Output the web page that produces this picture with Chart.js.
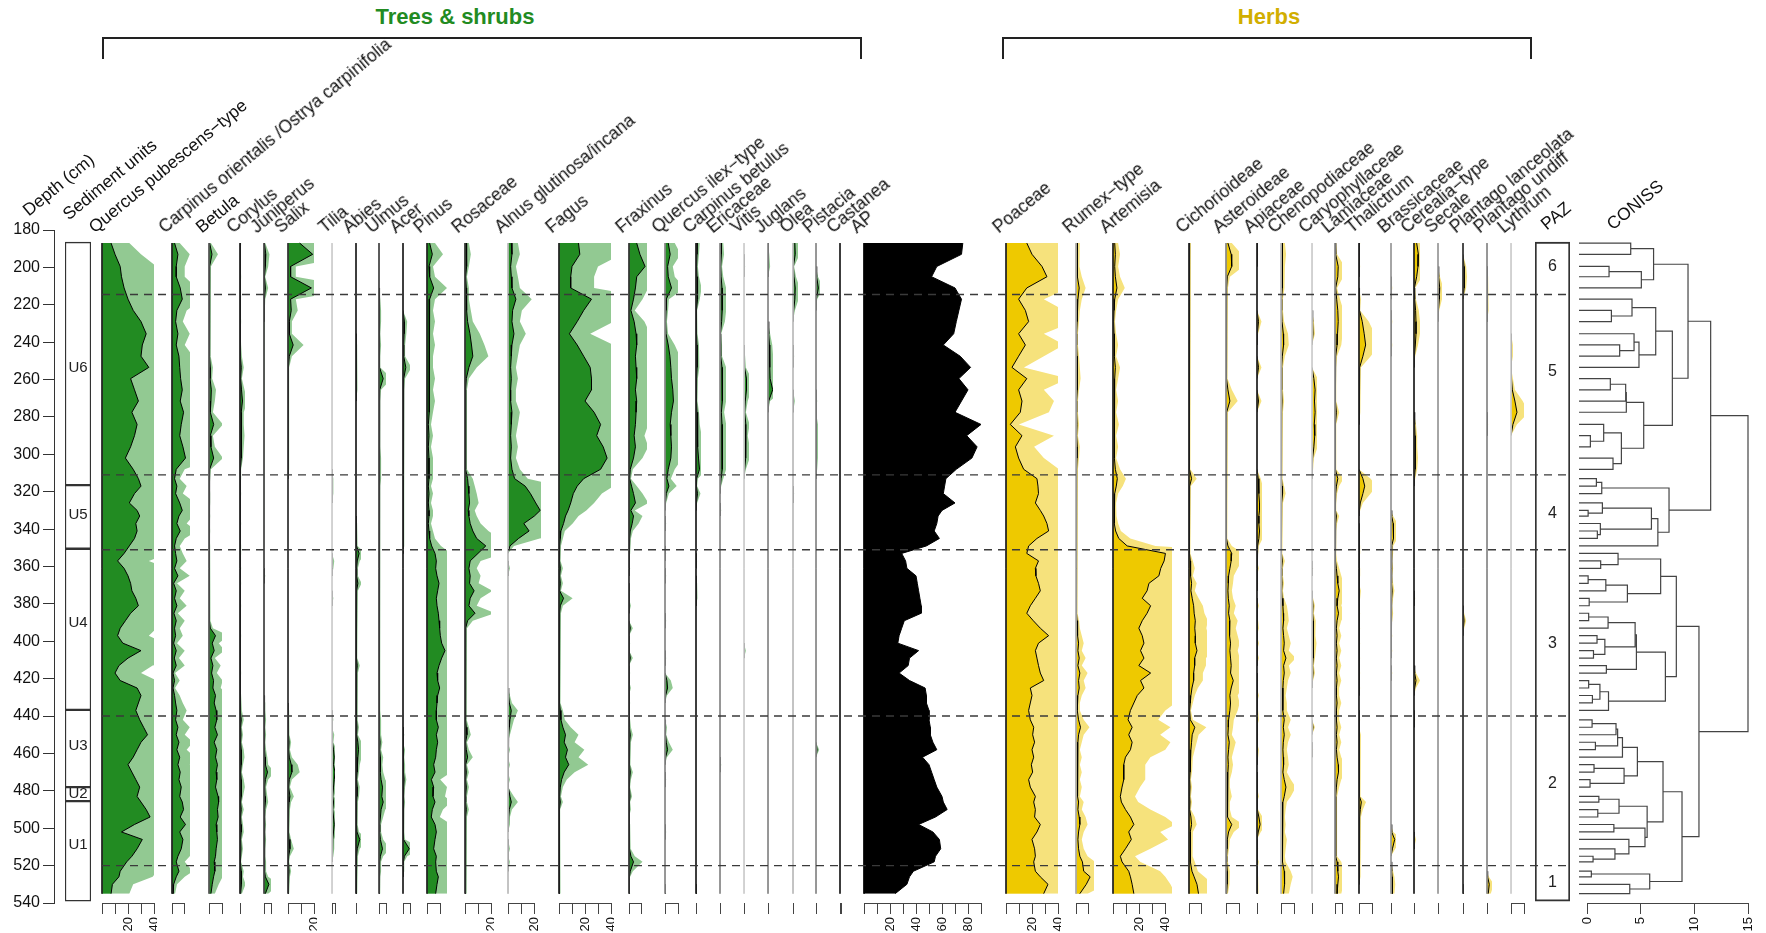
<!DOCTYPE html>
<html>
<head>
<meta charset="utf-8">
<title>Pollen diagram</title>
<script src="https://cdn.jsdelivr.net/npm/chart.js@4.4.1/dist/chart.umd.min.js"></script>
<style>
  body { margin: 0; background: #fff; }
  #page { position: relative; width: 1766px; height: 933px; overflow: hidden; font-family: "Liberation Sans", Arial, sans-serif; }
  #page canvas { position: absolute; }
  .lab { position: absolute; white-space: nowrap; font-size: 17.5px; line-height: 17.5px; height: 17.5px; color: #111; transform-origin: 0 100%; transform: rotate(-39.5deg); }
  .title { position: absolute; top: 4px; font-weight: bold; font-size: 22px; line-height: 26px; transform: translateX(-50%); white-space: nowrap; }
  .bracket { position: absolute; top: 37px; height: 20px; border: 2px solid #222; border-bottom: none; }
</style>
</head>
<body>
<div id="page">
  <div class="title" style="left:455px;color:#228B22">Trees &amp; shrubs</div>
  <div class="title" style="left:1269px;color:#D1AE00">Herbs</div>
  <div class="bracket" style="left:102px;width:756px"></div>
  <div class="bracket" style="left:1002px;width:526px"></div>
</div>
<script>
// Sample depths (cm)
const depths = [187,193,199.5,205,211, 217,223,229,235.5,241.5,247.5,253.5,259.5,265.5,271.5,277.5,284,290,296,302,308, 313,317,321,326,330,333,337,341,345,349, 353,357,361,365,369,373,377,381,385,389,393,397,401,405,409,413,417,421,425,429,433,437, 442,446,450,454,458,462,466,470,474,478,483,486,490,494,498,502,506,511,515,518,523,526,530,535];

// Pollen percentages, same order as depths
const quercusPub = [7,10,14,15,17, 20,24,30,34,31,30,36,22,25,28,23,27,25,22,18,24, 28,30,25,21,27,29,26,27,25,21, 17,12,17,20,22,23,26,28,22,18,14,12,16,30,20,13,10,14,27,30,28,26, 29,32,35,30,27,24,20,23,26,29,27,30,34,37,25,15,31,27,23,19,14,13,8,7];
const carpinusOri = [2,4.6,3.3,3.3,6.4, 8,3.8,2.8,4.6,3.3,5.4,6,6.7,8,6.4,9,7.2,6,8.5,10.5,3.3, 2,3.8,2.8,6,8,5.4,3.8,6.4,3.3,2, 2.8,3.8,2,4.6,1.3,3.3,2,3.8,1.5,3.3,2,2.8,1.3,3.3,1.8,3.3,0.8,2,0.8,2,2.8,3.8, 2.8,4.6,3.3,5.4,3.8,6,4.6,6.4,5.4,7.2,6,8,9,6.4,10.5,6,8.5,7.2,4.6,3.3,5.4,3.3,1.3,0.8];
const betula = [0.5,2.3,0.5,0.3,0.5, 0.5,0.3,0.5,0.5,0.3,0.5,1,0.8,1.8,1.5,1,3.6,1,1.5,3.6,0.5, 0.3,0.2,0.3,0.3,0.2,0.3,0.2,0.3,0.2,0.3, 0.3,0.3,0.5,0.3,0.3,0.3,0.5,0.5,0.3,0.5,1,5,2.5,4,1.5,3,2,3.5,3,5,4,5.5, 6,4.5,6.5,4,6,5,6.5,5.5,6,5,7,7.4,6.5,7,5.5,6,6.5,5.5,5,4,4.5,3.5,2.5,1.5];
const corylus = [0.3,0.2,0.2,0.3,0.2, 0.2,0.2,0.3,0.2,0.3,0.5,1,0.5,1.2,2,1,1,1.2,1,0.8,0.3, 0.3,0.2,0.3,0.2,0.2,0.2,0.3,0.2,0.2,0.3, 0.3,0.2,0.3,0.2,0.3,0.2,0.2,0.3,0.2,0.2,0.2,0.3,0.2,0.2,0.2,0.2,0.3,0.2,0.2,0.3,0.5,0.5, 1,0.5,0.8,0.5,1,1.2,0.8,0.5,1,1.3,0.8,0.5,1,0.5,0.8,1,0.5,0.8,0.5,0.3,1,0.8,1.5,0.5];
const juniperus = [0.3,1.3,1,0.3,1, 0.3,0.2,0,0,0,0,0,0,0,0,0,0,0,0,0,0, 0,0,0,0,0,0,0,0,0,0, 0,0,0,0.3,0,0,0,0,0,0,0,0,0,0,0,0,0,0,0,0,0.3,0.3, 0.5,0.3,0.5,0.3,0.5,0.8,1,2.5,1,0.5,0.8,1,0.5,0.3,0.5,0.3,0.5,0.3,0.3,0.5,0.5,1,3.5,1];
const salix = [9,19,2,2,18, 2,2.5,1,1,4,1,0.3,0.3,0.3,0.3,0.3,0.3,0.3,0.3,0.3,0.3, 0,0,0,0,0,0,0,0,0,0, 0,0,0,0,0,0,0,0,0,0,0,0,0,0,0,0,0,0,0,0,0,0.3, 0.3,0.5,0.3,0.8,0.5,1,2.5,3,1,0.5,1.5,0.8,0.5,0.3,0.5,0.3,0.8,1.5,0.5,0.3,0.8,0.5,0.3,0.3];
const tilia = [0,0,0,0,0, 0,0,0,0,0,0,0,0,0,0,0,0,0,0,0,0, 0.3,0.3,0.3,0,0,0,0,0,0,0, 0,0.5,0.3,0,0,0,0.3,0,0,0,0,0,0,0,0,0,0,0,0,0,0,0, 0.3,0,0.5,0.3,1,1.5,1,2,1.5,1,0.5,1,0.5,1,1.5,1,0.5,0.5,0.3,0,0,0,0,0];
const abies = [0,0,0,0,0, 0,0,0,0,0.3,0.3,0.5,0.5,0.3,0,0,0,0,0,0,0, 0,0,0,0,0,0,0.3,0.5,0.3,0.5, 2.5,1,0.5,0.5,1.5,0.5,0.3,0.3,0.5,0.3,0.3,0.3,0.3,0.5,0.3,1,0.5,0.3,0.5,0.5,0.3,0.5, 0.5,0.8,0.5,1.5,2,1.5,1,0.8,0.5,1,0.8,0.5,0.5,0.3,0.5,0.8,3,1,0.5,0.3,0.5,0.3,0.3,0.3];
const ulmus = [0,0,0,0,0, 0.3,0.5,0.5,0.3,0.5,0.3,0.3,3,0.5,0.3,0.3,0.3,0.3,0.3,0.5,0.5, 0.5,0.3,0.3,0.3,0.3,0.3,0.3,0.3,0.3,0.3, 0.3,0.3,0.3,0.3,0.3,0.3,0.3,0.3,0.3,0.3,0.3,0.3,0.3,0.3,0.3,0.3,0.3,0.3,0.3,0.3,0.3,0.3, 0.5,0.5,0.5,0.8,0.5,1,0.8,1,1.5,2.5,2,3,1.5,1,0.5,0.5,1,2.5,1,0.5,0.5,0.3,0.3,0.3];
const acer = [0,0,0,0,0, 0,0,1,0.8,0.5,0.5,2,0.5,0.3,0.3,0.3,0.3,0.3,0.3,0.3,0.3, 0.3,0.3,0.3,0.3,0.3,0.3,0.3,0.3,0.3,0.3, 0,0,0,0,0,0,0,0,0,0,0,0,0,0,0,0,0,0,0,0,0,0, 0,0,0.3,0,0.5,0.3,0.5,0.5,0.8,0.5,0.3,0.5,0.3,0.3,0.3,0.3,0.5,4.5,1,0.3,0.3,0,0,0];
const pinus = [2,4,1.5,2,5, 2,1.5,2,1.5,2,1.5,1.5,2,1.5,2,1.5,1,1.5,1,1.5,1.5, 1.5,1,1.5,1,1.5,1.5,1,1.5,2,3.5, 6,7,6.5,7.5,9,8,7,7.5,8.5,9,9.5,10,11,13.5,11,9,7.5,8,9.5,8,7.5,7, 7,8.5,7,8,7,6.5,5,6,3.3,5,4.5,6,4,3.2,6,7,6,5,7,6.5,7,8.5,7.5,6.5];
const rosaceae = [1,1.5,1,0.5,1, 1,1.5,2,3.8,5,6,3,1,0.5,0.5,0.5,0.5,0.5,0.5,0.5,0.5, 2,2.5,3,3.5,2.5,3,4,6,9,16, 10,4,3,4,3.5,7,4,3,7.7,2,0.5,0.5,0.3,0.5,0.3,0.5,0.3,0.5,0.3,0.5,0.5,0.5, 0.5,1,1.5,0.5,1,2,0.5,1,0.5,1,0.5,0.5,1,0.5,0.5,0.3,0.5,0.5,0.3,0.5,0.3,0.5,0.5,0.3];
const alnus = [2.5,3,2,2.5,3, 6,3.5,3,4.5,3,2.5,2,2.5,2,2,3,2.5,2,2.5,2,3, 5,13,17,21,24.4,20,12,16,8,1.5, 0,0,0.5,0,0,0,0,0,0,0,0,0,0,0,0,0,0,0,0,0.5,1,2.5, 1.5,1,0.5,0,0.5,0,0.5,0,0.5,0,1.5,2.5,1,0.5,0.5,0,0,0.5,0,0.5,0,0,0,0];
const fagus = [15,16,10,9,9, 25,19,14,8,14,19,24,25,25,20,27,32,29,34,37,32, 19,14,11,9,7,5,3.5,1.5,1,0.5, 0.5,0.3,1,0.5,1,0.5,3.5,1,0.5,0.3,0.5,0.3,0.5,0.3,0.5,0.3,0.3,0.5,0.3,0.3,0.5,1, 1.5,3,5,4,6.5,5,7.5,4,2,1,0.5,1,0.3,0.5,0.3,0.5,0.3,0.5,0.3,0.3,0.5,0.3,0.3,0.5];
const fraxinus = [6,8.5,12.5,6,5, 3.5,1.5,4,5.5,6,5,5.5,6,5,6,5.5,5,4,5,3.5,1, 0.5,2,3.5,5,1.5,3.5,2.5,1,0.5,0.3, 0.3,0,0.3,0,0,0.3,0,0.5,0,0,1,0,0.3,0,1,0,0.3,0,0.5,0,0.3,0, 0.3,0.5,1,0.5,0.3,0.5,0.3,1,0.5,0.3,0.8,0.3,0.5,0,0.3,0.5,0.3,0.5,1.5,3.5,1,0.3,0,0.3];
const quercusIlex = [2.5,4,2,2.5,5, 1,0.8,0.5,0.8,2.5,3.8,4.5,5,6,6.5,5,4,4.5,5,4.5,2.5, 1.5,3,1,0.3,0,0,0.3,0,0,0, 0.3,0,0,0.3,0,0,0,0,0,0.3,0,0,0,0,0.3,0,0,1.5,2,0.5,0,0, 0,0.5,0.3,1,2,0.5,0,0,0.3,0,0,0,0,0,0,0.3,0,0,0,0,0,0,0,0.3];
const carpinusBet = [1,0.8,0.5,0.8,1.5, 1,0.3,0.3,0.5,0.8,1,0.8,0.5,0.5,0.3,0.8,1,1.5,1.5,2,2.8, 0.5,0.3,1.2,0.3,0,0,0,0,0,0, 0,0.3,0,0,0.3,0.5,0.3,0,0,0,0,0,0,0,0,0,0,0,0,0,0,0, 0,0,0,0,0,0,0,0,0,0,0,0,0,0,0,0,0,0,0,0,0,0,0,0.3];
const ericaceae = [0.8,1,0.5,0.8,1.5, 1.8,1.5,1.2,0.3,0.5,0.5,1.5,2,1.8,1.5,1,1.5,1.8,1.5,2,1.5, 0.8,0.3,0,0,0.3,0,0,0,0,0, 0,0,0,0,0,0,0,0,0,0,0,0,0,0,0,0,0,0,0,0,0,0, 0,0,0,0,0,0,0.3,0,0,0,0,0,0,0,0,0,0,0,0,0,0,0,0,0];
const vitis = [0,0,0.3,0,0, 0,0,0,0,0,0.3,0.5,2,2,1,0.5,1.5,1,1.5,1.5,0.5, 0,0,0,0,0,0,0,0,0,0, 0,0,0,0,0,0,0,0,0,0,0,0,0,0.5,0,0,0,0,0,0,0,0, 0,0,0,0,0,0,0,0,0,0,0,0,0,0,0,0,0,0,0,0,0,0,0,0];
const juglans = [0,0.3,0.5,0,0, 0,0,0,0.5,1,1.2,1.3,1.5,3.3,0.5,0,0,0,0,0,0, 0,0,0,0,0,0,0,0,0,0, 0,0,0,0,0,0,0,0,0,0,0,0,0,0,0,0,0,0,0,0,0,0, 0,0,0,0,0,0,0,0,0,0,0,0,0,0,0,0,0,0,0,0,0,0,0,0];
const olea = [1.5,1.8,0.3,0.8,1.8, 1.5,0.5,0,0,0,0.3,0,0,0,0.5,0,0,0,0,0,0, 0,0,0.3,0,0,0,0,0,0,0, 0,0,0,0,0,0,0,0,0,0,0,0,0,0,0,0,0,0,0,0,0,0, 0,0,0,0,0,0,0,0,0,0,0,0,0,0,0,0,0,0,0,0,0,0,0,0];
const pistacia = [0,0,0,0.5,1.8, 0.3,0,0,0,0,0,0,0,0,0.3,0,0.5,0.5,0.5,0.5,0.3, 0,0,0,0,0,0,0,0,0,0, 0,0,0,0,0,0,0,0,0,0,0,0,0,0,0,0,0,0,0,0,0,0, 0,0,0,0,0.8,0,0,0,0,0,0,0,0,0,0,0,0,0,0,0,0,0,0,0];
const castanea = [0,0,0,0,0, 0,0,0,0,0,0,0,0,0,0,0,0,0,0,0,0, 0,0,0,0,0,0,0,0,0,0, 0,0,0,0,0,0,0,0,0,0,0,0,0,0,0,0,0,0,0,0,0,0, 0,0,0,0,0,0,0,0,0,0,0,0,0,0,0,0,0,0,0,0,0,0,0,0];
const ap = [76,75,56,52,70, 75,73,71,69,61,74,82,73,80,75,70,90,79,87,83,71, 63,62,61,70,60,57,56,54,58,48, 29,32,33,40,41,42,43,44,44,31,29,27,26,42,35,34,27,35,47,48,48,50, 50,51,51,53,56,45,50,52,54,56,60,61,64,55,42,53,58,59,55,54,38,35,33,24];

const poaceae = [16,20,27.7,31.5,16, 9.7,14.9,17.4,9.7,14.9,9.7,4.6,16,9.7,12.3,11,3.3,12.3,7.2,9.7,13.6, 23.8,24.6,25,22.6,26.4,29,31.5,32.8,23.8,17.4, 16,25,22.6,23,25,26.4,22.6,18.7,16,21,26.4,32.8,25,22.6,23.8,25,26.4,29,18.7,20,18.7,17.4, 18.7,21.3,20.5,22,20,21.3,19.5,20.5,17.4,18.7,22.6,21.3,22.6,22,26.4,23.8,20,22,22.6,21.3,22.6,26.4,32.3,29];
const rumex = [1,0.8,1,1.5,2.5, 1.5,1,0.8,0.5,0.5,0.8,1,1.2,0.8,0.5,0.5,0.8,0.5,1,0.8,0.5, 0.5,0.3,0.5,0.3,0.5,0.3,0.5,0.3,0.5,0.3, 0.3,0.5,0.3,0.5,0.3,0.5,0.3,0.5,0.5,0.8,1,1.5,2,1.5,2.5,1.5,3,2,2.5,1.5,1,1, 2,3.5,2,1.5,1,1.5,1,1.5,1,1.5,1,2,1.5,2.5,3,2,1.5,2,3,5,6,11,8,3];
const artemisia = [1.3,1.8,1.3,1.8,3, 1.3,0.8,0.5,0.8,1.3,0.8,1.8,1.3,0.8,1.3,0.8,1.5,0.8,1.3,0.8,1.8, 3.3,2.5,1.3,0.8,1,0.8,1.3,2,4.4,10.8, 40,39,36.4,35,27.4,26,22.3,28.7,26,22.3,19.7,22.3,23.6,21,23.6,19.7,28.7,21,23.6,18.5,15.9,13.3, 11.5,14.6,12,14.6,13.3,9.5,8.2,8.2,8.2,6.9,5.6,6.4,9.5,13.3,15.9,12,14,9.5,5.6,6.9,12,13.3,14.6,15.9];
const cichorioideae = [0.5,0.3,0.5,0.3,0.3, 0.3,0.3,0.5,0.3,0.5,0.3,0.5,0.3,0.3,0.5,0.3,0.3,0.3,0.5,0.3,0.5, 2,0.5,0.3,0.3,0.5,0.3,0.3,0.3,0.5,0.3, 0.5,1,1.5,1,2,1.5,2.5,3.6,4,4.9,4.5,5,4.9,6.2,4.4,4.4,3.6,3.6,2.3,1.5,1,0.5, 1,4.5,2.5,2,1.5,1,0.8,0.8,0.5,0.8,0.5,0.8,0.5,1.5,2,1,1,1,0.8,1.5,2.3,4,6.2,7.4];
const asteroideae = [1.5,4,4.4,1,0.5, 0.5,0.3,0.5,0.3,0.5,0.3,0.5,0.3,1.5,3,0.5,0.3,0.3,0.5,0.3,0.3, 0.3,0.5,0.3,0.3,0.3,0.3,0.3,0.3,0.5,1.5, 4.4,4,3,2,1.8,1.5,1.8,2.5,2,3,2.5,3,3.5,3,3.5,4,3.5,5.6,4,3,3.5,3, 2,1.8,1.5,2.5,2,1.5,1.8,1.5,1,1,1.5,1,1,1.5,4.4,2,1,0.8,0.5,0.5,1,0.8,1,0.5];
const apiaceae = [0,0.3,0,0,0, 0,0,1.2,0.3,0,0,1.2,0,0,1.2,0,0,0,0,0,0, 1,1.5,1.5,2,2,1.5,1.5,2,1.5,0.5, 0.3,0,0.5,0,0.3,0,0,0.5,0,0.3,0.5,0,0.5,0,0.5,0,0,0.3,0,0.5,0,0.3, 0.5,0,0.3,0,0.5,0.3,0,0,0.3,0,0.5,0,0.3,1.5,2.5,1,0,0.3,0,0.5,0,0.3,0.5,0.3];
const chenopodiaceae = [1,1.3,1,0.8,1, 0.5,0.5,0.8,1.8,2,1,0.5,0.5,0.5,0.8,0.5,0.5,0.3,0.5,0.3,0.3, 0.5,0.8,1.2,0.5,0.3,0.3,0.3,0.3,0.3,0.5, 0.5,1,0.5,0.5,0.8,0.5,0.8,1.5,1.8,2,1.5,2,2.5,2,3.8,2,2.5,1.8,1.5,1.2,1.5,1.5, 2.5,1.8,2.5,1.8,1.5,1.8,2,1.5,2.5,3.8,2.5,1.5,1.2,1,1.2,1,1.5,1.2,1,1.2,2.5,3,2.5,2];
const caryophyllaceae = [0,0,0,0,0, 0,0,0.5,0.8,0,0,0,1.5,2.5,2,2.5,1.8,2.2,1.5,0.5,0.3, 0,0,0,0,0,0,0,0,0,0, 0,0,0.3,0,0,0,0.3,0.8,0.5,1,0.8,1,1.2,1,0.8,0.5,0.8,0.3,0,0,0,0, 0,0.8,0,0,0.3,0,0,0,0,0,0,0,0,0,0,0,0,0,0,0,0,0,0,0];
const lamiaceae = [0.3,0.5,2.3,2,0.5, 1.2,2,2.3,1.8,1.5,0.5,0.3,0.3,0.3,0.3,1,0.3,0.3,0.3,0.3,0.3, 2,1,0.5,0.3,0.3,1,0.5,0.3,0.3,0.3, 0.3,0.5,1,1.5,2,3,2,1.5,2.5,1.5,1,1.5,1,1.5,1,1.5,1,1.5,1,1,1.5,1, 1,1.5,1,1.5,1,1.5,2.3,2.5,1.5,1,0.5,0.5,0.5,0.5,0.5,0.5,0.5,0.5,0.5,1.5,2,2.5,2,1.5];
const thalictrum = [0.3,0,0.3,0,0, 0.5,0.3,2.5,4,5.1,3,0.5,0.3,0.3,0.5,0.3,0,0,0,0,0, 3,4.4,3,1,0.3,0,0,0.3,0,0.3, 0.3,0,0.3,0.3,0,0.5,0.3,0,0.3,0,0.3,0,0.3,0,0.3,0,0.3,0,0.3,0,0,0, 0.3,0,0.5,0.3,0.5,0.3,0.5,0.3,0.5,0.3,0.5,1.8,1,0.5,0.3,0.5,0.3,0.5,0.5,0.3,0.5,0.3,0,0];
const brassicaceae = [0,0,0,0,0.3, 0,0,0.3,0,0.3,0,0,0,0,0,0,0,0,0,0,0, 0,0,0,0,0,0.5,1.5,2,1.5,0.5, 0.5,0.3,0.5,0.3,0.5,0.8,0.5,0.3,0.5,0.3,0,0.3,0,0.3,0,0,0.3,0,0,0,0,0, 0,0,0,0,0,0,0,0,0,0,0,0,0,0,0,0.5,2.6,1,0,0,0.5,0.8,1,0.8];
const cerealia = [2,3.3,3,2,0.3, 0.5,1.2,1.5,1.5,1,0.3,0,0,0,0,0,0.5,0.8,0.8,1,0.8, 0.3,0,0,0,0,0,0,0,0,0, 0,0,0,0,0,0,0.3,0,0,0,0,0,0,0,0,0,0.5,1.5,0.5,0,0,0, 0.3,0,0,0,0,0,0,0,0,0,0,0,0,0,0,0,0.5,0,0,0,0,0,0,0];
const secale = [0,0,0,0.5,1.3, 1,0.3,0,0,0,0,0,0,0,0,0,0,0,0,0,0, 0,0,0,0,0,0,0,0,0,0, 0,0,0,0,0,0,0,0,0,0,0,0,0,0,0,0,0,0,0,0,0,0, 0,0,0,0,0,0,0,0,0,0,0,0,0,0,0,0,0,0,0,0,0,0,0,0];
const plantagoLanc = [0,0,0.8,1,0.8, 0,0,0,0,0,0,0,0,0,0,0,0,0,0,0,0, 0,0,0,0,0,0,0,0,0,0, 0,0,0,0,0,0,0,0,0.3,0.8,0.3,0,0,0,0,0,0,0,0,0,0,0, 0,0,0,0,0,0,0,0,0,0,0,0,0,0,0,0,0,0,0,0,0,0,0,0.3];
const plantagoUnd = [0,0,0,0.3,0.5, 0.5,0.3,0,0,0,0,0,0,0,0,0,0.3,0,0,0,0, 0,0,0,0,0,0,0,0,0,0, 0,0,0,0,0,0,0,0,0,0,0,0,0,0,0,0,0,0,0,0,0,0, 0,0,0,0,0,0,0,0,0,0,0,0,0,0,0,0,0,0,0,0,0,0.5,1.8,1];
const lythrum = [0,0,0,0,0, 0,0,0,0,0.5,0.5,0,0.5,1,3,4.6,1.5,0,0,0,0, 0,0,0,0,0,0,0,0,0,0, 0,0,0,0,0,0,0,0,0,0,0,0,0,0,0,0,0,0,0,0,0,0, 0,0,0,0,0,0,0,0,0,0,0,0,0,0,0,0,0,0,0,0,0,0,0,0];

// CONISS: hclust-style merges (negative = sample number, positive = earlier merge), total dispersion
const leafStart = -0.75;
const merges = [
  [-1,-2,4.07],[-3,-4,2.05],[2,-5,5.06],[1,3,6.2],
  [-7,-8,2.27],[-6,5,4.19],[-10,-11,3.04],[-9,7,4.38],[8,-12,4.84],[6,9,6.4],
  [-13,-14,2.17],[11,-15,3.6],[12,-16,3.66],[-18,-19,0.31],[-17,14,1.55],[-20,-21,2.42],[15,16,3.2],[13,17,5.28],[10,18,7.95],[4,19,9.41],
  [-22,-23,0.87],[21,-24,1.37],[-26,-27,0.1],[-25,23,1.43],[-29,-30,0.96],[-28,25,1.24],[24,26,6.0],[27,-31,6.6],[22,28,7.64],[20,29,11.52],
  [-33,-34,1.27],[-32,31,2.89],[-35,-36,0.1],[33,-37,1.75],[-38,-39,0.2],[34,35,3.76],[32,36,6.86],
  [-40,-41,0.15],[38,-42,1.96],[-43,-44,0.93],[-45,-46,0.6],[40,41,1.66],[39,42,4.48],[-47,-48,1.8],[43,44,4.6],
  [-49,-50,0.15],[-51,-52,0.5],[46,47,1.2],[48,-53,2.0],[45,49,7.3],[37,50,8.32],
  [-54,-55,0.47],[52,-56,2.7],[-57,-58,0.78],[53,54,2.85],[55,-59,3.3],[-60,-61,0.65],[-62,-63,0.28],[57,58,3.45],[56,59,4.69],
  [-64,-65,1.1],[-66,-67,1.0],[61,62,2.98],[-72,-73,0.56],[-71,64,2.6],[-70,65,3.9],[-68,-69,2.5],[67,66,5.4],[63,68,5.6],[60,69,7.08],
  [-74,-75,0.4],[-76,-77,3.98],[71,72,5.84],[70,73,8.85],[51,74,10.43],[30,75,15.0]
];

// Zones and sediment units
const zoneBounds = [214.5, 311, 351, 440, 520];
const pazNames = ['6','5','4','3','2','1'];
const pazLabelDepth = [199.7, 256, 331.5, 401, 476, 529];
const pazRange = [186.5, 539];
const unitNames = ['U6','U5','U4','U3','U2','U1'];
const unitTop = [186.5, 316.5, 350.5, 436.7, 478, 485.5];
const unitBottom = [316.5, 350.5, 436.7, 478, 485.5, 539];
const unitLabelDepth = [254, 332.6, 390, 456, 481.4, 509];

// Layout
const TOP = 230, PLOT_H = 673, AXIS_H = 32, PX = 1.3, EXAG = 3;
const FONT = '"Liberation Sans", Arial, sans-serif';
const TREE_DARK = '#228B22', TREE_LIGHT = '#92C992', HERB_DARK = '#EEC900', HERB_LIGHT = '#F6E27C';

// label, data, zero line x, column max (%), group, baseline colour
const columns = [
  ['Quercus pubescens\u2212type', quercusPub, 102, 40, 'tree', '#222'],
  ['Carpinus orientalis /Ostrya carpinifolia', carpinusOri, 172, 14, 'tree', '#222'],
  ['Betula', betula, 209, 10, 'tree', '#555'],
  ['Corylus', corylus, 240, 4, 'tree', '#222'],
  ['Juniperus', juniperus, 264, 5, 'tree', '#444'],
  ['Salix', salix, 288, 20, 'tree', '#333'],
  ['Tilia', tilia, 332, 2, 'tree', '#ccc'],
  ['Abies', abies, 356, 4, 'tree', '#222'],
  ['Ulmus', ulmus, 379, 5, 'tree', '#444'],
  ['Acer', acer, 403, 5, 'tree', '#222'],
  ['Pinus', pinus, 427, 15, 'tree', '#222'],
  ['Rosaceae', rosaceae, 465, 20, 'tree', '#333'],
  ['Alnus glutinosa/incana', alnus, 508, 25, 'tree', '#bbb'],
  ['Fagus', fagus, 559, 40, 'tree', '#222'],
  ['Fraxinus', fraxinus, 629, 14, 'tree', '#333'],
  ['Quercus ilex\u2212type', quercusIlex, 665, 10, 'tree', '#888'],
  ['Carpinus betulus', carpinusBet, 696, 4, 'tree', '#222'],
  ['Ericaceae', ericaceae, 720, 4.4, 'tree', '#888'],
  ['Vitis', vitis, 744, 4, 'tree', '#ccc'],
  ['Juglans', juglans, 768, 3.5, 'tree', '#888'],
  ['Olea', olea, 793, 4, 'tree', '#bbb'],
  ['Pistacia', pistacia, 816, 3, 'tree', '#888'],
  ['Castanea', castanea, 840, 1, 'tree', '#222'],
  ['AP', ap, 864, 90, 'ap', '#000'],
  ['Poaceae', poaceae, 1006, 40, 'herb', '#222'],
  ['Rumex\u2212type', rumex, 1076, 14, 'herb', '#aaa'],
  ['Artemisia', artemisia, 1113, 45, 'herb', '#222'],
  ['Cichorioideae', cichorioideae, 1189, 14, 'herb', '#222'],
  ['Asteroideae', asteroideae, 1226, 10, 'herb', '#888'],
  ['Apiaceae', apiaceae, 1257, 4, 'herb', '#222'],
  ['Chenopodiaceae', chenopodiaceae, 1281, 10, 'herb', '#bbb'],
  ['Caryophyllaceae', caryophyllaceae, 1312, 4, 'herb', '#ccc'],
  ['Lamiaceae', lamiaceae, 1335, 5, 'herb', '#888'],
  ['Thalictrum', thalictrum, 1359, 10, 'herb', '#222'],
  ['Brassicaceae', brassicaceae, 1391, 3.5, 'herb', '#999'],
  ['Cerealia\u2212type', cerealia, 1414, 4.5, 'herb', '#222'],
  ['Secale', secale, 1438, 3, 'herb', '#999'],
  ['Plantago lanceolata', plantagoLanc, 1463, 3, 'herb', '#333'],
  ['Plantago undiff', plantagoUnd, 1487, 4, 'herb', '#888'],
  ['Lythrum', lythrum, 1511, 10, 'herb', '#ccc']
];

Chart.defaults.font.family = FONT;
Chart.defaults.color = '#111';
const page = document.getElementById('page');

columns.forEach(c => { if (c[1].length !== depths.length) console.error('length mismatch', c[0], c[1].length); });

function makeCanvas(left, top, w, h) {
  const cv = document.createElement('canvas');
  cv.width = Math.round(w); cv.height = Math.round(h);
  cv.style.left = Math.round(left) + 'px'; cv.style.top = Math.round(top) + 'px';
  cv.style.width = cv.width + 'px'; cv.style.height = cv.height + 'px';
  page.appendChild(cv);
  return cv;
}

function addLabel(text, x, y) {
  const d = document.createElement('div');
  d.className = 'lab';
  d.textContent = text;
  d.style.left = x + 'px';
  d.style.top = (y - 17.5) + 'px';
  page.appendChild(d);
}

function baseOpts(extra) {
  return Object.assign({
    responsive: false, maintainAspectRatio: false, animation: false, devicePixelRatio: 1, events: [],
    plugins: { legend: { display: false }, tooltip: { enabled: false } },
    elements: { point: { radius: 0 }, line: { tension: 0 } }
  }, extra);
}

// horizontal axis line only from first to last tick
const axisLine = {
  id: 'axisLine',
  afterDraw(chart) {
    const s = chart.scales.x;
    if (!s || !s.options.display || s.ticks.length < 2) return;
    const ctx = chart.ctx, y = Math.round(chart.chartArea.bottom) + 0.5;
    ctx.save();
    ctx.strokeStyle = '#444'; ctx.lineWidth = 1;
    ctx.beginPath();
    ctx.moveTo(s.getPixelForValue(s.ticks[0].value), y);
    ctx.lineTo(s.getPixelForValue(s.ticks[s.ticks.length - 1].value), y);
    ctx.stroke();
    ctx.restore();
  }
};

function bottomAxis(min, max, step, labelFn) {
  return {
    type: 'linear', min: min, max: max, position: 'bottom',
    border: { display: false },
    grid: { drawOnChartArea: false, drawTicks: true, tickLength: 11, color: '#444', lineWidth: 1 },
    ticks: { stepSize: step, includeBounds: false, autoSkip: false, minRotation: 90, maxRotation: 90, padding: 3, color: '#111', font: { size: 13 }, callback: labelFn },
    afterFit: s => { s.height = AXIS_H; s.paddingLeft = 0; s.paddingRight = 0; }
  };
}

// depth axis
{
  const cv = makeCanvas(0, TOP - 10, 62, PLOT_H + 20);
  new Chart(cv, {
    type: 'line',
    data: { datasets: [] },
    options: baseOpts({
      layout: { padding: { top: 10, bottom: 10, left: 0, right: 0 } },
      scales: {
        x: { type: 'linear', display: false },
        y: {
          type: 'linear', reverse: true, min: 180, max: 540, position: 'left',
          border: { display: true, color: '#333', width: 1 },
          grid: { drawOnChartArea: false, tickLength: 11, color: '#333' },
          ticks: { stepSize: 20, padding: 3, color: '#111', font: { size: 16 } },
          afterFit: s => { s.width = 54; s.paddingTop = 0; s.paddingBottom = 0; }
        }
      }
    })
  });
}

function textPlugin(names, at, size) {
  return {
    id: 'boxText',
    afterDatasetsDraw(chart) {
      const ctx = chart.ctx, y = chart.scales.y, a = chart.chartArea;
      ctx.save();
      ctx.fillStyle = '#222';
      ctx.font = size + 'px ' + FONT;
      ctx.textAlign = 'center'; ctx.textBaseline = 'middle';
      names.forEach((n, i) => ctx.fillText(n, (a.left + a.right) / 2, y.getPixelForValue(at[i])));
      ctx.restore();
    }
  };
}

function boxChart(left, width, tops, bottoms, names, at, bw, size) {
  const cv = makeCanvas(left, TOP, width, PLOT_H);
  new Chart(cv, {
    type: 'bar',
    data: {
      labels: ['box'],
      datasets: tops.map((t, i) => ({
        data: [[t, bottoms[i]]], backgroundColor: '#fff', borderColor: '#333', borderWidth: bw,
        borderSkipped: false, grouped: false, barPercentage: 1, categoryPercentage: 1
      }))
    },
    options: baseOpts({
      layout: { padding: 0 },
      scales: {
        x: { display: false },
        y: { type: 'linear', reverse: true, min: 180, max: 540, display: false }
      }
    }),
    plugins: [textPlugin(names, at, size)]
  });
}

// sediment units
boxChart(65, 26, unitTop, unitBottom, unitNames, unitLabelDepth, 1.5, 15);

// pollen columns
columns.forEach(([label, vals, x0, max, group, base]) => {
  const padL = 3, padR = 3;
  const w = Math.max(1, Math.round(max * PX));
  const cv = makeCanvas(x0 - padL, TOP, w + padL + padR, PLOT_H + AXIS_H);
  const isAP = group === 'ap';
  const dark = group === 'herb' ? HERB_DARK : (isAP ? '#000' : TREE_DARK);
  const light = group === 'herb' ? HERB_LIGHT : TREE_LIGHT;
  const datasets = [];
  if (!isAP) {
    datasets.push({
      data: vals.map((v, i) => ({ x: v * EXAG, y: depths[i] })),
      fill: 'origin', backgroundColor: light, borderWidth: 0, order: 3
    });
  }
  datasets.push({
    data: vals.map((v, i) => ({ x: v, y: depths[i] })),
    fill: 'origin', backgroundColor: dark, borderColor: '#000', borderWidth: 1, order: 2,
    segment: { borderColor: s => (s.p0.parsed.x === 0 && s.p1.parsed.x === 0) ? 'rgba(0,0,0,0)' : undefined }
  });
  datasets.push({
    data: [{ x: 0, y: depths[0] }, { x: 0, y: depths[depths.length - 1] }],
    borderColor: base, borderWidth: 1, fill: false, order: 1, clip: false
  });
  new Chart(cv, {
    type: 'line',
    data: { datasets },
    options: baseOpts({
      indexAxis: 'y',
      layout: { padding: { left: padL, right: padR, top: 0, bottom: 0 } },
      scales: {
        y: { type: 'linear', reverse: true, min: 180, max: 540, display: false },
        x: bottomAxis(0, max, 10, v => (v > 0 && v % 20 === 0) ? v : '')
      }
    }),
    plugins: [axisLine]
  });
  addLabel(label, x0 - 5, 236);
});

// PAZ box
boxChart(1535, 35, [pazRange[0]], [pazRange[1]], pazNames, pazLabelDepth, 2, 16);

// CONISS dendrogram
{
  const nodeY = [], nodeH = [];
  const pos = k => k < 0 ? { y: depths[-k - 1], h: leafStart } : { y: nodeY[k - 1], h: nodeH[k - 1] };
  const pts = [];
  merges.forEach(([a, b, h]) => {
    const A = pos(a), B = pos(b);
    pts.push({ x: A.h, y: A.y }, { x: h, y: A.y }, { x: h, y: B.y }, { x: B.h, y: B.y }, { x: NaN, y: NaN });
    nodeY.push((A.y + B.y) / 2);
    nodeH.push(h);
  });
  const padL = 3, padR = 7;
  const cv = makeCanvas(1579 - padL, TOP, 169 + padL + padR, PLOT_H + AXIS_H);
  new Chart(cv, {
    type: 'scatter',
    data: { datasets: [{ data: pts, showLine: true, borderColor: '#444', borderWidth: 1.2, pointRadius: 0, clip: false, spanGaps: false }] },
    options: baseOpts({
      layout: { padding: { left: padL, right: padR, top: 0, bottom: 0 } },
      scales: {
        y: { type: 'linear', reverse: true, min: 180, max: 540, display: false },
        x: bottomAxis(leafStart, 15, 5, v => v)
      }
    }),
    plugins: [axisLine]
  });
}

// zone boundaries
{
  const cv = makeCanvas(102, TOP, 1468, PLOT_H);
  cv.style.pointerEvents = 'none';
  new Chart(cv, {
    type: 'line',
    data: {
      datasets: zoneBounds.map(d => ({
        data: [{ x: 0, y: d }, { x: 1, y: d }], borderColor: '#3a3a3a', borderWidth: 1.4,
        borderDash: [8, 6], fill: false, clip: false
      }))
    },
    options: baseOpts({
      layout: { padding: 0 },
      scales: {
        x: { type: 'linear', min: 0, max: 1, display: false },
        y: { type: 'linear', reverse: true, min: 180, max: 540, display: false }
      }
    })
  });
}

addLabel('Depth (cm)', 31, 219);
addLabel('Sediment units', 71, 223);
addLabel('PAZ', 1549, 233);
addLabel('CONISS', 1615, 233);
</script>
</body>
</html>
